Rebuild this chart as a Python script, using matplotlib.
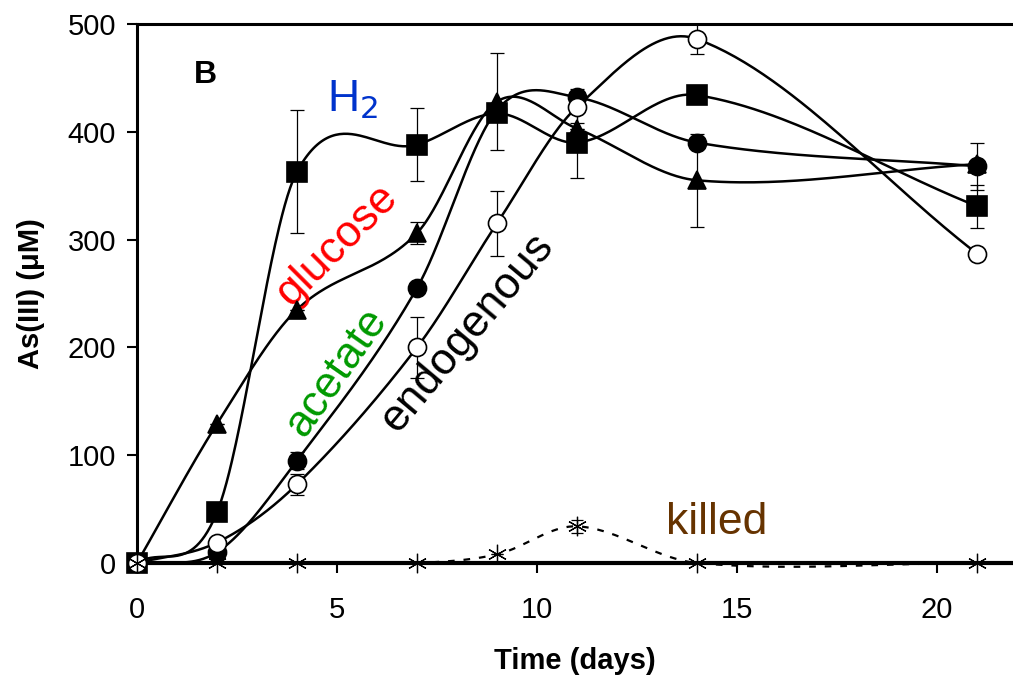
import numpy as np
import matplotlib
matplotlib.use("Agg")
import matplotlib.pyplot as plt

plt.rcParams['font.family'] = ['Liberation Sans', 'DejaVu Sans']

# ---- data ----
days = [0, 2, 4, 7, 9, 11, 14, 21]
h2 = [0, 47, 363, 388, 417, 390, 434, 331]
h2_err = [0, 0, 57, 34, 0, 33, 0, 20]
glucose = [0, 129, 235, 306, 428, 403, 355, 370]
glucose_err = [0, 0, 0, 10, 45, 0, 43, 0]
acetate = [0, 10, 95, 255, 420, 432, 390, 368]
acetate_err = [0, 0, 8, 0, 0, 8, 0, 22]
endogenous = [0, 19, 73, 200, 315, 423, 486, 287]
endogenous_err = [0, 0, 10, 28, 30, 15, 14, 0]
killed = [0, 0, 0, 0, 8, 34, 0, 0]
killed_err = [0, 0, 0, 0, 0, 6, 0, 0]


def catmull_rom(x, y, n=60):
    """Cubic Hermite curve through the points, tangents = central differences."""
    x = np.asarray(x, float)
    y = np.asarray(y, float)
    m = len(x)
    t = np.zeros(m)
    t[0] = (y[1] - y[0]) / (x[1] - x[0])
    t[-1] = (y[-1] - y[-2]) / (x[-1] - x[-2])
    for i in range(1, m - 1):
        t[i] = (y[i + 1] - y[i - 1]) / (x[i + 1] - x[i - 1])
    xs_all, ys_all = [], []
    for i in range(m - 1):
        h = x[i + 1] - x[i]
        s = np.linspace(0, 1, n)
        h00 = 2 * s ** 3 - 3 * s ** 2 + 1
        h10 = s ** 3 - 2 * s ** 2 + s
        h01 = -2 * s ** 3 + 3 * s ** 2
        h11 = s ** 3 - s ** 2
        ys = h00 * y[i] + h10 * h * t[i] + h01 * y[i + 1] + h11 * h * t[i + 1]
        xs_all.append(x[i] + s * h)
        ys_all.append(ys)
    return np.concatenate(xs_all), np.concatenate(ys_all)


fig = plt.figure(figsize=(10.13, 6.81), dpi=100)
ax = fig.add_axes([0.1352, 0.1733, 0.8648, 0.7915])
ax.set_xlim(0, 21.9)
ax.set_ylim(0, 500)

series = [
    (h2, h2_err, 's', 'black', 14),
    (glucose, glucose_err, '^', 'black', 13),
    (acetate, acetate_err, 'o', 'black', 13),
    (endogenous, endogenous_err, 'o', 'white', 13),
]

for vals, err, mk, fc, ms in series:
    xs, ys = catmull_rom(days, vals)
    ax.plot(xs, ys, color='black', lw=1.8, zorder=2, clip_on=False)

xs, ys = catmull_rom(days, killed)
ax.plot(xs, ys, color='black', lw=1.6, ls=(0, (3, 4)), zorder=2,
        clip_on=False)

for vals, err, mk, fc, ms in series:
    ax.errorbar(days, vals, yerr=err, fmt='none', ecolor='black',
                elinewidth=0.9, capsize=5, capthick=0.9, zorder=3)
    ax.plot(days, vals, ls='none', marker=mk, ms=ms, mfc=fc, mec='black',
            mew=1.2, zorder=4, clip_on=False)

ax.errorbar(days, killed, yerr=killed_err, fmt='none', ecolor='black',
            elinewidth=0.9, capsize=4, capthick=0.9, zorder=3)
ax.plot(days, killed, ls='none', marker=(6, 2, 0), ms=14, mec='black',
        mew=0.9, zorder=4, clip_on=False)

# spines / ticks
ax.spines['right'].set_visible(False)
for s in ['left', 'top']:
    ax.spines[s].set_linewidth(2.2)
ax.spines['bottom'].set_linewidth(3)
ax.set_xticks([0, 5, 10, 15, 20])
ax.set_yticks([0, 100, 200, 300, 400, 500])
ax.tick_params(axis='both', direction='out', length=7, width=1.5,
               labelsize=21)
ax.tick_params(axis='x', pad=17)
ax.tick_params(axis='y', pad=8)

ax.set_xlabel('Time (days)', fontsize=21, fontweight='bold', labelpad=16)
ax.set_ylabel('As(III) (μM)', fontsize=21, fontweight='bold', labelpad=16)

# annotations
ax.text(1.7, 453, 'B', fontsize=23, fontweight='bold', ha='center',
        va='center')
ax.text(5.4, 430, 'H$_2$', fontsize=32, color='#0033cc', ha='center',
        va='center')
ax.text(5.0, 295, 'glucose', fontsize=32, color='red', ha='center',
        va='center', rotation=45, rotation_mode='anchor')
ax.text(5.0, 177, 'acetate', fontsize=32, color='#009900', ha='center',
        va='center', rotation=55, rotation_mode='anchor')
ax.text(8.25, 213, 'endogenous', fontsize=32, color='black', ha='center',
        va='center', rotation=50, rotation_mode='anchor')
ax.text(14.5, 38, 'killed', fontsize=32, color='#663300', ha='center',
        va='center')

fig.savefig('out.png', dpi=100)
